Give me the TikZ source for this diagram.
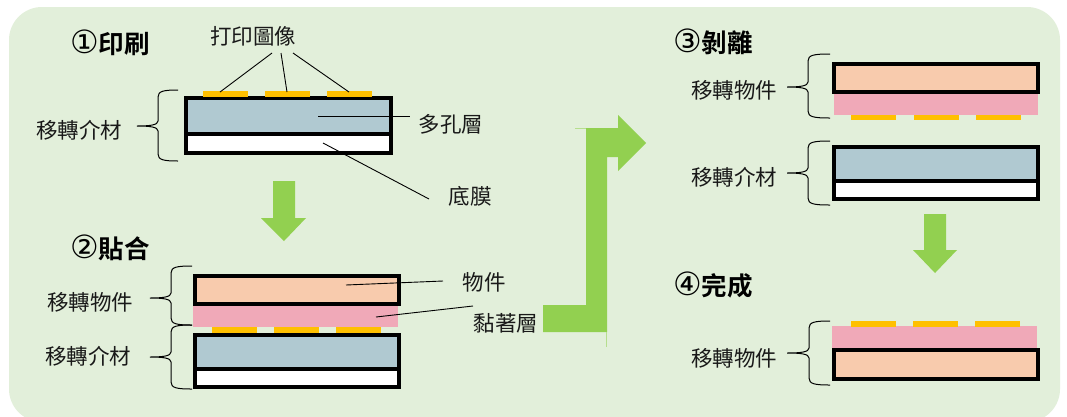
\documentclass[tikz,border=0pt]{standalone}
\usepackage{fontspec}
\setmainfont{Noto Sans CJK TC}[BoldFont={Noto Sans CJK TC Bold}]
\newfontfamily\circfont{DejaVu Sans}
\definecolor{panelbg}{HTML}{E2EFDA}
\definecolor{peach}{HTML}{F8CBAD}
\definecolor{porous}{HTML}{B0C9D1}
\definecolor{glue}{HTML}{F0A9B8}
\definecolor{gold}{HTML}{FFC000}
\definecolor{arrowgreen}{HTML}{92D050}
\tikzset{
  x=1pt,y=-1pt,
  layerbox/.style={draw=black,line width=4pt,miter limit=10},
  gluelayer/.style={fill=glue},
  goldlayer/.style={fill=gold},
  leader/.style={draw=black,line width=0.9pt},
  bracket/.style={draw=black,line width=1pt},
  flow/.style={fill=arrowgreen},
  lbl/.style={font=\fontsize{21.5}{21.5}\selectfont,inner sep=0pt,anchor=center,text=black!90},
  ttl/.style={font=\fontsize{25.5}{25.5}\selectfont\bfseries,inner sep=0pt,anchor=center},
}
\newcommand{\bracemark}[6]{% top, mid, bottom, spine x, tip x, end x
  \draw[bracket] (#6,#1) .. controls (#4+6,#1) and (#4,#1+1) .. (#4,#1+7)
    -- (#4,#2-5) .. controls (#4,#2-1) and (#4-8,#2) .. (#5,#2)
    .. controls (#4-8,#2) and (#4,#2+1) .. (#4,#2+5)
    -- (#4,#3-7) .. controls (#4,#3-1) and (#4+6,#3) .. (#6,#3);
}
\newcommand{\goldbar}[3]{\fill[goldlayer] (#1,#2) rectangle (#1+45,#3);}
\newcommand{\circnum}[1]{{\circfont\fontsize{32}{32}\selectfont\mdseries #1}}
\begin{document}
\begin{tikzpicture}
\useasboundingbox (0,0) rectangle (1067,416);
\fill[white] (0,0) rectangle (1067,416);
\fill[panelbg] (9,7) [rounded corners=33pt] -- (1060,7) -- (1060,422) -- (9,422) -- cycle;
% flow arrows
\fill[flow] (273,181) -- (295,181) -- (295,218) -- (306,218) -- (284,241) -- (261,218) -- (273,218) -- cycle;
\fill[flow] (924,214) -- (946,214) -- (946,250) -- (957,250) -- (935,273) -- (913,250) -- (924,250) -- cycle;
\fill[flow] (543,305) -- (586,305) -- (586,128) -- (618,128) -- (618,115) -- (646,143) -- (618,171) -- (618,157) -- (607,157) -- (607,332) -- (543,332) -- cycle;
\draw[arrowgreen!55!panelbg,line width=.6pt] (606,332) -- (606,347) (575,128) -- (586,128);
% step 1
\node[ttl] (t1) at (110,43) {\circnum{①}印刷};
\fill[porous] (186,98) rectangle (391,134);
\fill[white] (186,134) rectangle (391,153);
\draw[layerbox] (186,98) rectangle (391,153) (186,134) -- (391,134);
\goldbar{203}{91}{97}\goldbar{265}{91}{97}\goldbar{327}{91}{97}
\node[lbl] (print) at (253,36) {打印圖像};
\node[lbl] (m1) at (79,130) {移轉介材};
\node[lbl] (porl) at (451,124) {多孔層};
\node[lbl] (basl) at (470,196) {底膜};
\coordinate (pa) at (272,53); \coordinate (pb) at (281,53); \coordinate (pc) at (293,53);
\coordinate (ga) at (220,92); \coordinate (gb) at (287,92); \coordinate (gc) at (349,92);
\draw[leader] (pa) -- (ga) (pb) -- (gb) (pc) -- (gc);
\coordinate (pora) at (318,116); \coordinate (porb) at (410,116);
\draw[leader] (pora) -- (porb);
\coordinate (basa) at (323,143); \coordinate (basb) at (429,199);
\draw[leader] (basa) -- (basb);
\bracemark{90}{126}{161}{158}{137}{178}
% step 2
\node[ttl] (t2) at (110,248) {\circnum{②}貼合};
\fill[peach] (195,275) rectangle (399,304);
\fill[gluelayer] (193,306) rectangle (398,327);
\draw[layerbox] (195,275.5) rectangle (399,304);
\goldbar{212}{327}{333}\goldbar{274}{327}{333}\goldbar{336}{327}{333}
\fill[porous] (195,334) rectangle (399,369);
\fill[white] (195,369) rectangle (399,387);
\draw[layerbox] (195,334.5) rectangle (399,387) (195,369) -- (399,369);
\node[lbl] (m2a) at (90,302) {移轉物件};
\node[lbl] (m2b) at (88,356) {移轉介材};
\node[lbl] (obj) at (484,282) {物件};
\node[lbl] (gl) at (506,323) {黏著層};
\coordinate (oa) at (346,285); \coordinate (ob) at (443,281);
\draw[leader] (oa) -- (ob);
\coordinate (gla) at (376,317); \coordinate (glb) at (473,306);
\draw[leader] (gla) -- (glb);
\bracemark{266}{298}{325}{171}{150}{192}
\bracemark{325}{357}{389}{171}{150}{192}
% step 3
\node[ttl] (t3) at (713,42) {\circnum{③}剝離};
\fill[peach] (834,63) rectangle (1038,92);
\draw[layerbox] (834,63.5) rectangle (1038,92);
\fill[gluelayer] (834,94) rectangle (1038,115);
\goldbar{851}{115}{120}\goldbar{914}{115}{120}\goldbar{976}{115}{120}
\fill[porous] (834,147) rectangle (1038,181);
\fill[white] (834,181) rectangle (1038,199);
\draw[layerbox] (834,146.5) rectangle (1038,199) (834,181) -- (1038,181);
\node[lbl] (m3a) at (734,90) {移轉物件};
\node[lbl] (m3b) at (734,177) {移轉介材};
\bracemark{54}{87}{118}{808}{787}{830}
\bracemark{141}{173}{205}{808}{787}{830}
% step 4
\node[ttl] (t4) at (713,285) {\circnum{④}完成};
\fill[gluelayer] (832,326) rectangle (1037,348);
\goldbar{851}{321}{327}\goldbar{913}{321}{327}\goldbar{975}{321}{327}
\fill[peach] (834,350) rectangle (1038,378);
\draw[layerbox] (834,350) rectangle (1038,378.5);
\node[lbl] (m4) at (734,358) {移轉物件};
\bracemark{321}{353}{385}{809}{787}{830}
\end{tikzpicture}
\end{document}
